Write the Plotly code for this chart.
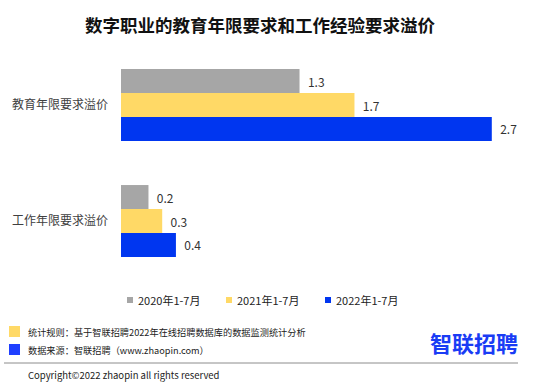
import plotly.graph_objects as go

categories = ["教育年限要求溢价", "工作年限要求溢价"]
series_names = ["2020年1-7月", "2021年1-7月", "2022年1-7月"]
values_2020 = [1.3, 0.2]
values_2021 = [1.7, 0.3]
values_2022 = [2.7, 0.4]
colors = ["#a6a6a6", "#ffd966", "#0036f0"]

W, H = 554, 385
FONT = "Noto Sans CJK SC, Microsoft YaHei, sans-serif"

fig = go.Figure()
for name, vals, col in zip(series_names, [values_2020, values_2021, values_2022], colors):
    fig.add_trace(go.Bar(
        y=categories, x=vals, name=name, orientation="h",
        marker=dict(color=col, line=dict(width=0)),
        text=[f"\u00a0\u00a0{v:.1f}" for v in vals], textposition="outside",
        textfont=dict(size=12, color="#333333", family=FONT),
        cliponaxis=False, showlegend=False, hoverinfo="skip",
    ))

# plot area in pixels
x0, x1 = 121, 533
y0, y1 = 47, 279
fig.update_layout(
    width=W, height=H,
    margin=dict(l=0, r=0, t=0, b=0),
    paper_bgcolor="white", plot_bgcolor="white",
    barmode="group", bargap=0.38, bargroupgap=0,
    xaxis=dict(domain=[x0 / W, x1 / W], range=[0, 3], visible=False, fixedrange=True),
    yaxis=dict(domain=[1 - y1 / H, 1 - y0 / H], autorange="reversed", fixedrange=True,
               showline=False, showgrid=False, ticks="", ticklabelstandoff=12,
               tickfont=dict(size=12, color="#404040", family=FONT)),
    font=dict(family=FONT),
    uniformtext=dict(minsize=11, mode="show"),
)

ann = []
shapes = []
# title
ann.append(dict(text="<b>数字职业的教育年限要求和工作经验要求溢价</b>", x=260 / W, y=1 - 24 / H,
                xref="paper", yref="paper", showarrow=False, xanchor="center", yanchor="middle",
                font=dict(size=17.5, color="#111111", family=FONT)))
# legend
leg_sq_x = [127, 226, 325]
for name, col, sx in zip(series_names, colors, leg_sq_x):
    shapes.append(dict(type="rect", xref="paper", yref="paper",
                       x0=sx / W, x1=(sx + 6) / W, y0=1 - 303 / H, y1=1 - 297 / H,
                       fillcolor=col, line=dict(width=0)))
    ann.append(dict(text=name, x=(sx + 9) / W, y=1 - 300 / H, xref="paper", yref="paper",
                    showarrow=False, xanchor="left", yanchor="middle",
                    font=dict(size=11, color="#222222", family=FONT)))
# footer notes
foot = [("统计规则：基于智联招聘2022年在线招聘数据库的数据监测统计分析", "#ffd966", 326),
        ("数据来源：智联招聘（www.zhaopin.com）", "#1f3fff", 344)]
for txt, col, ty in foot:
    shapes.append(dict(type="rect", xref="paper", yref="paper",
                       x0=9 / W, x1=20 / W, y0=1 - (ty + 11) / H, y1=1 - ty / H,
                       fillcolor=col, line=dict(width=0)))
    ann.append(dict(text=txt, x=26 / W, y=1 - (ty + 6) / H, xref="paper", yref="paper",
                    showarrow=False, xanchor="left", yanchor="middle",
                    font=dict(size=9.2, color="#222222", family=FONT)))
# logo
ann.append(dict(text="<b>智联招聘</b>", x=474 / W, y=1 - 342 / H, xref="paper", yref="paper",
                showarrow=False, xanchor="center", yanchor="middle",
                font=dict(size=22, color="#1a3cf5", family=FONT)))
# separator line
shapes.append(dict(type="line", xref="paper", yref="paper", x0=4 / W, x1=518 / W,
                   y0=1 - 363 / H, y1=1 - 363 / H, line=dict(color="#8c8c8c", width=1)))
ann.append(dict(text="Copyright©2022 zhaopin all rights reserved", x=26 / W, y=1 - 375 / H,
                xref="paper", yref="paper", showarrow=False, xanchor="left", yanchor="middle",
                font=dict(size=9.5, color="#222222", family=FONT)))

fig.update_layout(annotations=ann, shapes=shapes)
fig.write_html("out.html", config={"displayModeBar": False, "staticPlot": True},
               post_script="document.body.style.margin='0';document.body.style.overflow='hidden';")
